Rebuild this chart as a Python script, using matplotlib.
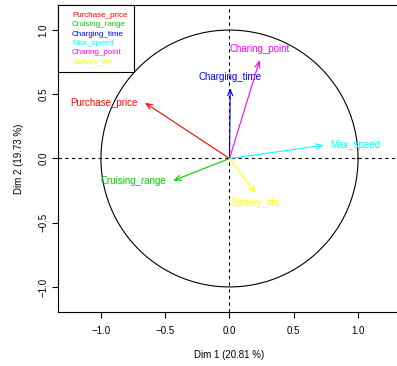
import numpy as np
import matplotlib
matplotlib.use('Agg')
from matplotlib import pyplot as plt
from matplotlib.lines import Line2D

plt.rcParams['font.family'] = ['Liberation Sans', 'DejaVu Sans']

variables = ['Purchase_price', 'Cruising_range', 'Charging_time',
             'Max_speed', 'Charing_point', 'Battery_life']
dim1 = np.array([-0.658, -0.438, 0.006, 0.733, 0.235, 0.204])
dim2 = np.array([0.434, -0.173, 0.549, 0.103, 0.767, -0.268])
colors = ['red', '#00cd00', 'blue', 'cyan', 'magenta', 'yellow']
# label placement: left / above / right / below the arrow tip (like R's pos)
label_pos = ['left', 'left', 'top', 'right', 'top', 'bottom']

fig = plt.figure(figsize=(3.97, 3.66), dpi=100)
ax = fig.add_axes([58/397, 54/366, 343/397, 307/366])

ax.set_xlim(-1.334, 1.334)
ax.set_ylim(-1.195, 1.195)

theta = np.linspace(0, 2*np.pi, 400)
ax.plot(np.cos(theta), np.sin(theta), color='black', lw=0.8)
ax.axhline(0, color='black', lw=0.8, ls=(0, (3, 3)))
ax.axvline(0, color='black', lw=0.8, ls=(0, (3, 3)))

offsets = {'left': ((-5, 0), 'right', 'center'),
           'right': ((5, 0), 'left', 'center'),
           'top': ((0, 4), 'center', 'bottom'),
           'bottom': ((0, -4), 'center', 'top')}

for name, x, y, c, p in zip(variables, dim1, dim2, colors, label_pos):
    ax.annotate('', xy=(x, y), xytext=(0, 0),
                arrowprops=dict(arrowstyle='->,head_length=0.45,head_width=0.18',
                                color=c, lw=0.8, shrinkA=0, shrinkB=0))
    off, ha, va = offsets[p]
    ax.annotate(name, xy=(x, y), xytext=off, textcoords='offset points',
                ha=ha, va=va, color=c, fontsize=7)

handles = [Line2D([], [], linestyle='none') for _ in variables]
leg = ax.legend(handles, variables, loc='upper left', borderaxespad=0,
                fontsize=5.8, handlelength=0.6, handletextpad=0.4,
                borderpad=0.75, labelspacing=0.22, fancybox=False,
                edgecolor='black', framealpha=1)
leg.get_frame().set_linewidth(0.8)
for t, c in zip(leg.get_texts(), colors):
    t.set_color(c)

ax.set_xticks([-1.0, -0.5, 0.0, 0.5, 1.0])
ax.set_yticks([-1.0, -0.5, 0.0, 0.5, 1.0])
ax.set_xticklabels(['\u22121.0', '\u22120.5', '0.0', '0.5', '1.0'], fontsize=7)
ax.set_yticklabels(['\u22121.0', '\u22120.5', '0.0', '0.5', '1.0'], fontsize=7,
                   rotation=90, va='center')
ax.tick_params(direction='out', length=4, width=0.8, pad=6)
ax.tick_params(axis='y', pad=3)
ax.spines['right'].set_visible(False)
for s in ['left', 'bottom', 'top']:
    ax.spines[s].set_linewidth(0.8)

ax.set_xlabel('Dim 1 (20.81 %)', fontsize=7, labelpad=10)
ax.set_ylabel('Dim 2 (19.73 %)', fontsize=7, labelpad=10)

plt.savefig('out.png', dpi=100)
